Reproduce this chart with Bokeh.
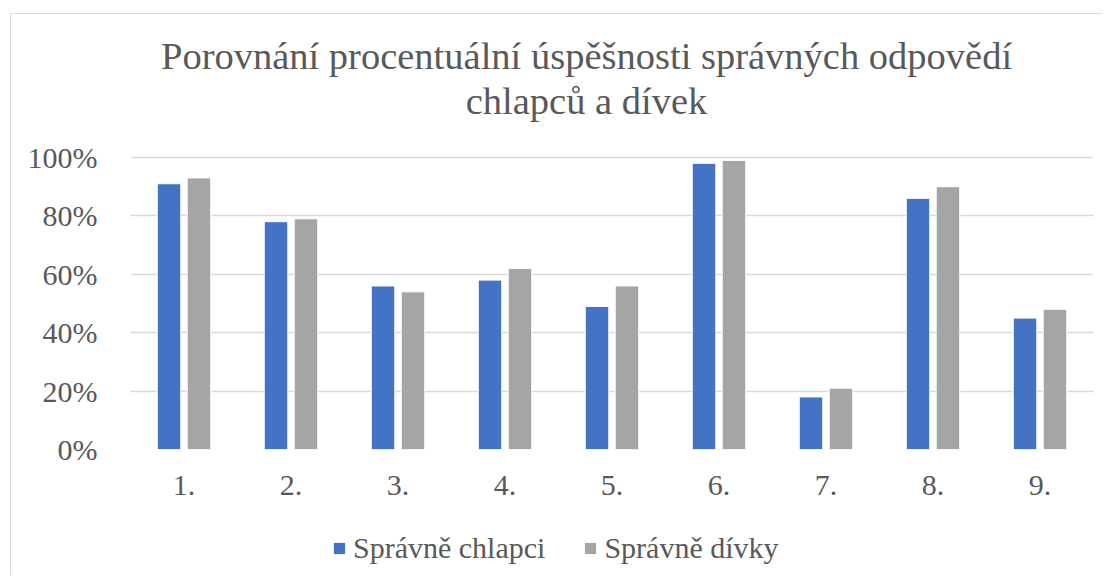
from bokeh.plotting import figure
from bokeh.layouts import column
from bokeh.models import (ColumnDataSource, Range1d, NumeralTickFormatter, Legend,
                          LegendItem, Label, FixedTicker)
from bokeh.transform import dodge
from bokeh.embed import file_html
from bokeh.resources import INLINE

categories = ["1.", "2.", "3.", "4.", "5.", "6.", "7.", "8.", "9."]
chlapci = [0.91, 0.78, 0.56, 0.58, 0.49, 0.98, 0.18, 0.86, 0.45]
divky = [0.93, 0.79, 0.54, 0.62, 0.56, 0.99, 0.21, 0.90, 0.48]
series_names = ["Správně chlapci", "Správně dívky"]
title_lines = ["Porovnání procentuální úspěšnosti správných odpovědí", "chlapců a dívek"]
y_ticks = [0, 0.2, 0.4, 0.6, 0.8, 1.0]

BLUE = "#4472C4"
GRAY = "#A5A5A5"
TEXT = "#595959"
SERIF = "Liberation Serif"

src = ColumnDataSource(dict(cat=categories, chlapci=chlapci, divky=divky))

# frame extends up over the title area; gridlines/ticks only 0..100 %
p = figure(x_range=categories, y_range=Range1d(0, 1.469), width=1091, height=500,
           output_backend="svg", toolbar_location=None)
p.x_range.range_padding = 0
p.min_border_left = 119
p.min_border_right = 9
p.min_border_top = 6
p.min_border_bottom = 65
p.outline_line_color = None
p.background_fill_color = "white"
p.border_fill_color = "white"

r1 = p.vbar(x=dodge("cat", -0.14, range=p.x_range), top="chlapci", width=0.22,
            source=src, fill_color=BLUE, line_color="white", line_width=1)
r2 = p.vbar(x=dodge("cat", 0.14, range=p.x_range), top="divky", width=0.22,
            source=src, fill_color=GRAY, line_color="white", line_width=1)

p.xgrid.grid_line_color = None
p.ygrid.grid_line_color = "#d9d9d9"
p.ygrid.grid_line_width = 1.5
p.yaxis.ticker = FixedTicker(ticks=y_ticks)
p.yaxis.formatter = NumeralTickFormatter(format="0%")

for ax in (p.xaxis, p.yaxis):
    ax.axis_line_color = None
    ax.major_tick_line_color = None
    ax.minor_tick_line_color = None
    ax.major_label_text_font = SERIF
    ax.major_label_text_font_size = "30px"
    ax.major_label_text_color = TEXT
p.yaxis.major_label_standoff = 27
p.xaxis.major_label_standoff = 20

# title (two centered lines)
p.add_layout(Label(x=4.262, y=1.348, text=title_lines[0], text_align="center",
                   text_baseline="alphabetic", text_font=SERIF, text_font_size="38.5px",
                   text_color=TEXT))
p.add_layout(Label(x=4.262, y=1.192, text=title_lines[1], text_align="center",
                   text_baseline="alphabetic", text_font=SERIF, text_font_size="38.5px",
                   text_color=TEXT))

# legend strip below the chart (same series, bars kept out of its view)
lf = figure(width=1091, height=61, x_range=categories, y_range=Range1d(5, 6),
            output_backend="svg", toolbar_location=None, min_border=0)
lf.x_range.range_padding = 0
lf.axis.visible = False
lf.grid.visible = False
lf.outline_line_color = None
lf.border_fill_color = "white"
l1 = lf.vbar(x=dodge("cat", -0.14, range=lf.x_range), top="chlapci", width=0.22,
             source=src, fill_color=BLUE, line_color=None)
l2 = lf.vbar(x=dodge("cat", 0.14, range=lf.x_range), top="divky", width=0.22,
             source=src, fill_color=GRAY, line_color=None)
legend = Legend(items=[LegendItem(label=series_names[0], renderers=[l1]),
                       LegendItem(label=series_names[1], renderers=[l2])],
                orientation="horizontal", location=(202, 10),
                glyph_width=14, glyph_height=14, label_standoff=7, spacing=38,
                padding=0, margin=0, border_line_color=None,
                background_fill_alpha=0,
                label_text_font=SERIF, label_text_font_size="30px",
                label_text_color=TEXT)
lf.add_layout(legend, "center")

layout = column(p, lf, spacing=0)
layout.margin = (13, 0, 0, 10)
layout.styles = {"border-left": "1px solid #d9d9d9", "border-top": "1px solid #d9d9d9"}

open("out.html", "w").write(file_html(layout, INLINE))
